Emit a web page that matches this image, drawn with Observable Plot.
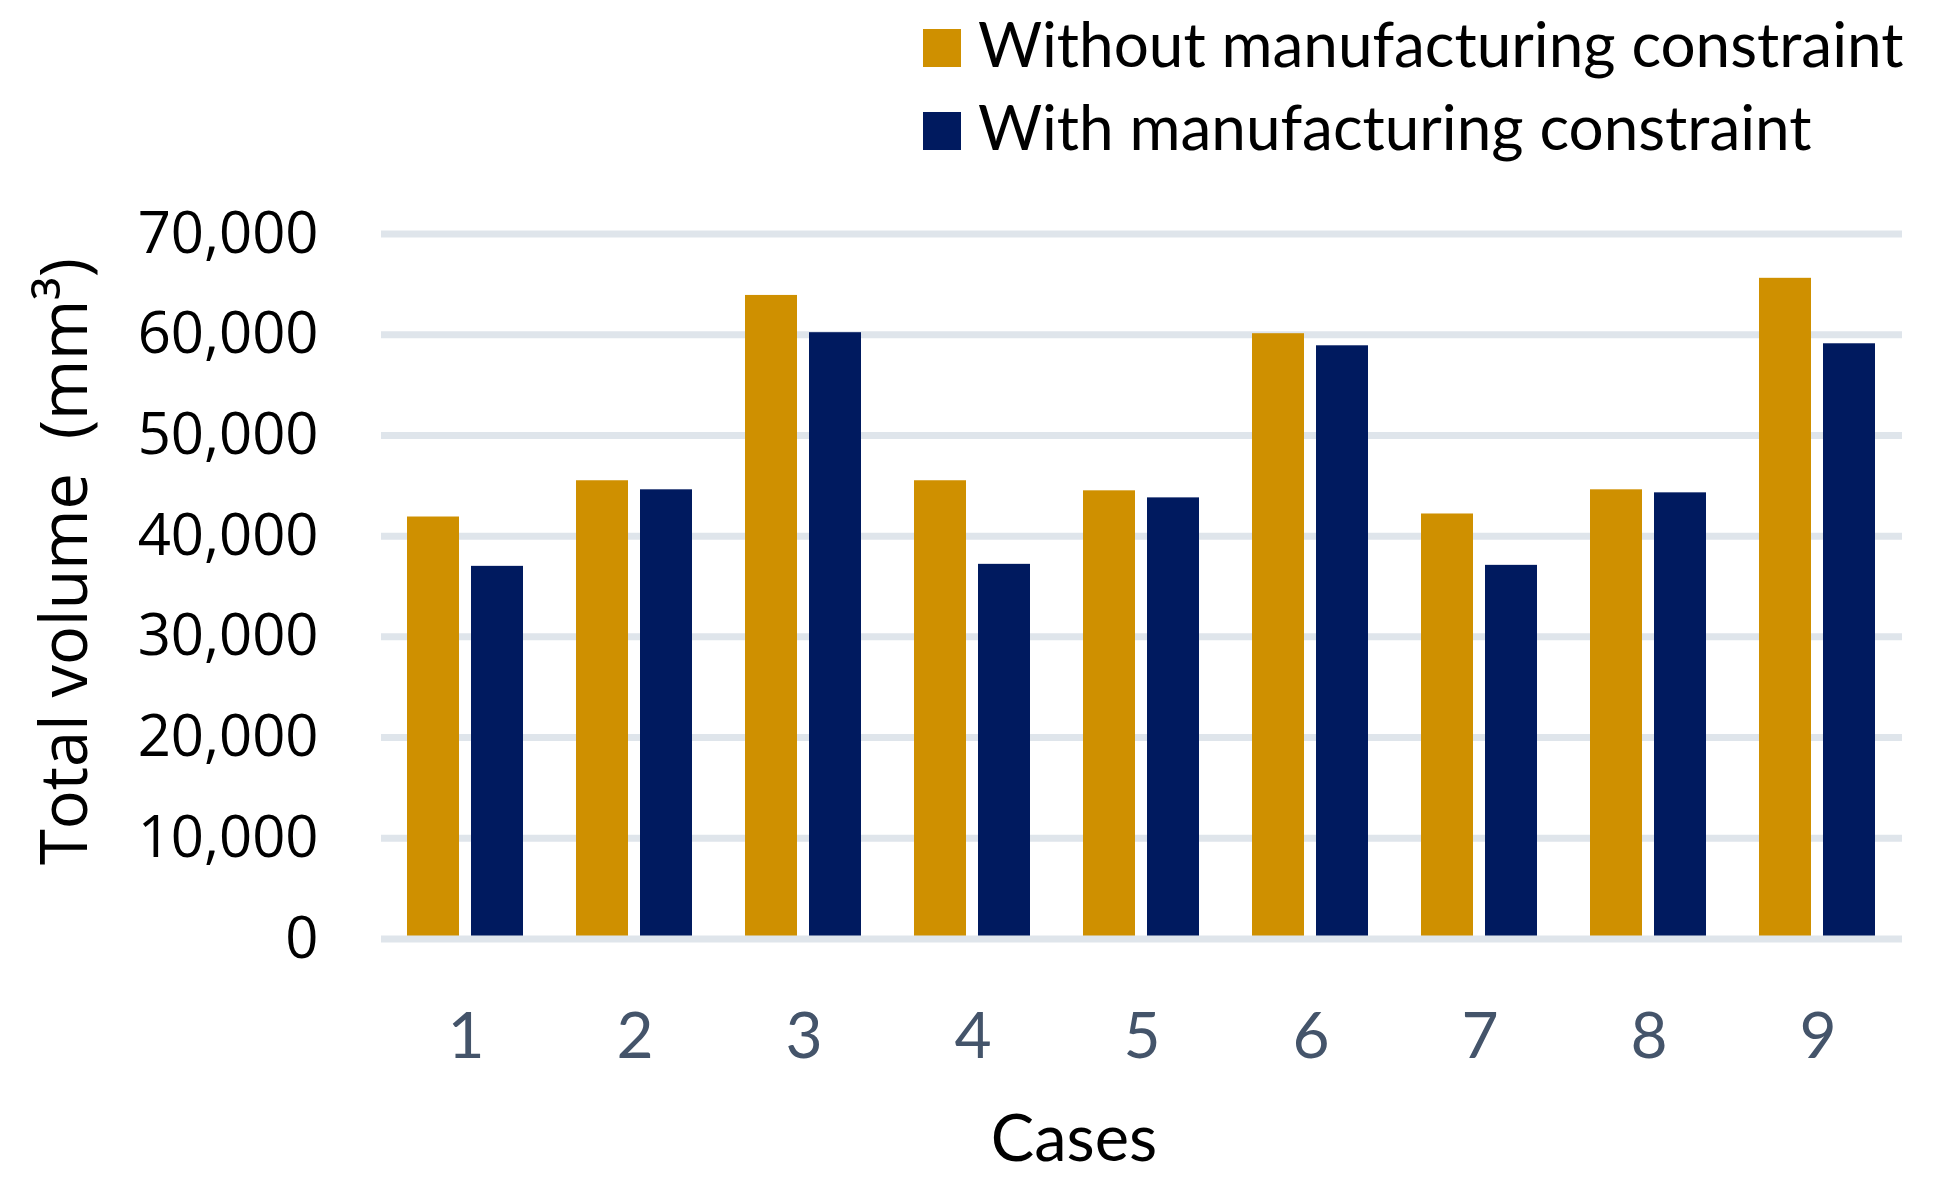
<!DOCTYPE html>
<html>
<head>
<meta charset="utf-8">
<script src="https://cdn.jsdelivr.net/npm/d3@7"></script>
<script src="https://cdn.jsdelivr.net/npm/@observablehq/plot@0.6"></script>
<style>
  html, body { margin: 0; padding: 0; background: #fff; }
  #legend { position: relative; width: 1935px; height: 190px; }
  #legend .rows { position: absolute; left: 923px; top: 2px; font-family: Lato, sans-serif; font-size: 62px; line-height: 83px; color: #000; }
  #legend .row { display: flex; align-items: baseline; gap: 17px; white-space: nowrap; }
  #legend .sw { width: 38px; height: 38px; flex: none; }
</style>
</head>
<body>
<div id="legend"><div class="rows"></div></div>
<div id="chart"></div>
<script>
const cases = ["1", "2", "3", "4", "5", "6", "7", "8", "9"];
const seriesNames = ["Without manufacturing constraint", "With manufacturing constraint"];
const withoutConstraint = [41900, 45500, 63900, 45500, 44500, 60100, 42200, 44600, 65600];
const withConstraint = [37000, 44600, 60200, 37200, 43800, 58900, 37100, 44300, 59100];
const yTicks = [0, 10000, 20000, 30000, 40000, 50000, 60000, 70000];
const seriesColors = ["#cf9000", "#001a5f"];

const data = [];
cases.forEach((c, i) => {
  data.push({case: c, series: seriesNames[0], value: withoutConstraint[i]});
  data.push({case: c, series: seriesNames[1], value: withConstraint[i]});
});

// Legend (HTML, above the SVG)
const rows = d3.select("#legend .rows");
seriesNames.forEach((name, i) => {
  const r = rows.append("div").attr("class", "row");
  r.append("div").attr("class", "sw").style("background", seriesColors[i]);
  r.append("div").text(name);
});

const grid = "#dfe5eb";
const plot = Plot.plot({
  width: 1935,
  height: 991,
  marginTop: 43.5,
  marginBottom: 242.5,
  marginLeft: 378,
  marginRight: 30,
  style: {fontFamily: "'Open Sans', sans-serif", fontSize: "58px", color: "#000", background: "#fff", overflow: "visible"},
  fx: {domain: cases, padding: 0},
  x: {domain: seriesNames, paddingInner: 0.185, paddingOuter: 0.398, axis: null},
  y: {domain: [0, 70000]},
  color: {domain: seriesNames, range: seriesColors},
  marks: [
    Plot.ruleY(yTicks.filter(d => d > 0), {stroke: grid, strokeWidth: 7}),
    Plot.barY(data, {fx: "case", x: "series", y: "value", fill: "series"}),
    Plot.ruleY([0], {stroke: grid, strokeWidth: 7}),
    Plot.axisY({
      ticks: yTicks, tickFormat: d3.format(","), tickSize: 0, tickPadding: 63,
      fontFamily: "'Open Sans', sans-serif", fontSize: 58, fill: "#000",
      label: "Total volume\u00a0 (mm³)", labelAnchor: "center", labelOffset: 341, labelArrow: false
    }),
    Plot.axisFx({
      anchor: "bottom", tickSize: 0, tickPadding: 74,
      fontFamily: "Lato, sans-serif", fontSize: 64, fill: "#44546a",
      label: "Cases", labelAnchor: "center", labelOffset: 221.5, labelArrow: false
    })
  ]
});

document.getElementById("chart").appendChild(plot);

// Fine-tune axis titles (size, colour, placement as in the reference)
const svg = d3.select(plot);
svg.selectAll("g[aria-label]").each(function() {
  const g = d3.select(this);
  const lab = g.attr("aria-label");
  if (lab === "y-axis label") {
    g.attr("font-size", 65).attr("fill", "#000")
     .attr("transform", "translate(0,-25) " + (g.attr("transform") || ""));
  } else if (lab === "fx-axis label") {
    g.attr("font-size", 65).attr("fill", "#000")
     .attr("transform", "translate(-68,0) " + (g.attr("transform") || ""));
  }
});
</script>
</body>
</html>
